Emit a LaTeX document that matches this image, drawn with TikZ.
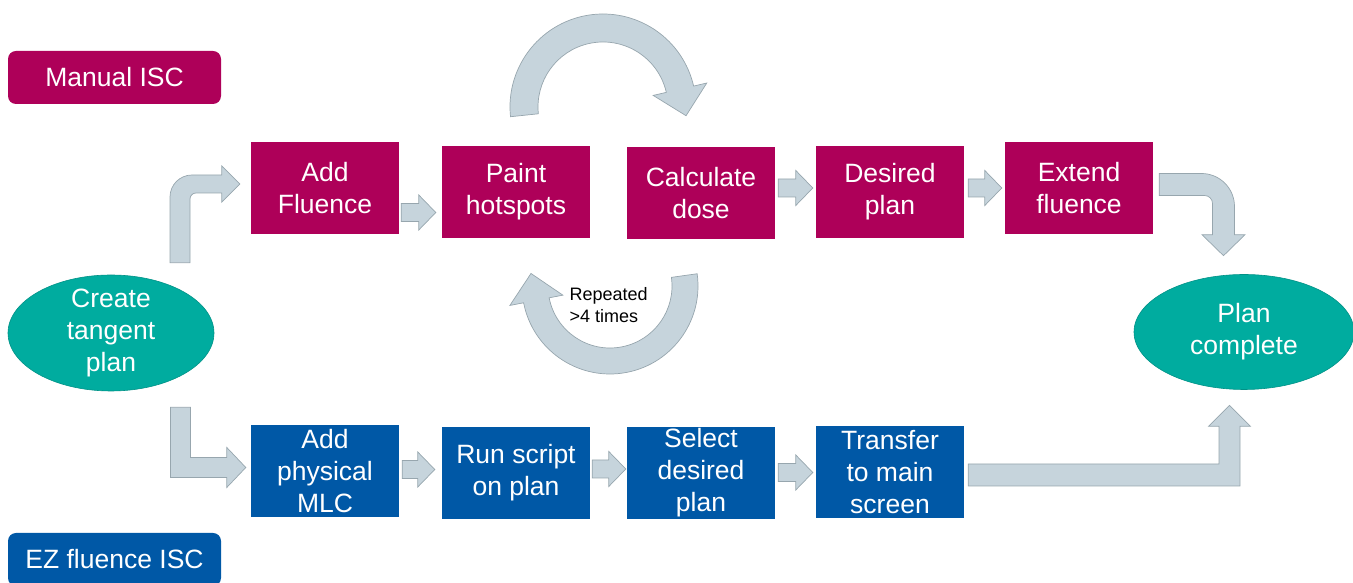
\documentclass[tikz,border=0pt]{standalone}
\usepackage{fontspec}
\setmainfont{Liberation Sans}
\usetikzlibrary{shapes.geometric,calc}

\definecolor{manual}{HTML}{AE0059}
\definecolor{ez}{HTML}{0058A6}
\definecolor{term}{HTML}{00AC9F}
\definecolor{arrowfill}{HTML}{C6D4DC}
\definecolor{arrowline}{HTML}{97A6AE}

\tikzset{
  boxtext/.style={text=white, align=center, font=\fontsize{26.5}{32}\selectfont},
  stepbox/.style={boxtext, rectangle, minimum width=148pt, minimum height=92pt, inner sep=0pt},
  manualbox/.style={stepbox, fill=manual},
  ezbox/.style={stepbox, fill=ez},
  tagbox/.style={boxtext, rectangle, rounded corners=8pt, minimum width=213pt, minimum height=53pt, inner sep=0pt},
  termnode/.style={boxtext, ellipse, fill=term, draw=term!85!black, line width=0.6pt, inner sep=-6pt},
  blockarrow/.style={fill=arrowfill, draw=arrowline, line width=0.7pt, line join=miter},
  % straight block arrow, kept at the height of the start point
  fat/.style={blockarrow, to path={let \p1=(\tikztostart), \p2=(\tikztotarget) in
      (\x1,\y1+9pt) -- (\x2-17pt,\y1+9pt) -- (\x2-17pt,\y1+17.5pt) -- (\x2,\y1)
      -- (\x2-17pt,\y1-17.5pt) -- (\x2-17pt,\y1-9pt) -- (\x1,\y1-9pt) -- cycle}},
  % up, round corner, then right
  elbowup/.style={blockarrow, to path={let \p1=(\tikztostart), \p2=(\tikztotarget) in
      (\x1-10pt,\y1) -- (\x1-10pt,\y2-13pt) arc[start angle=180, end angle=90, radius=22pt]
      -- (\x2-18pt,\y2+9pt) -- (\x2-18pt,\y2+18pt) -- (\x2,\y2) -- (\x2-18pt,\y2-18pt)
      -- (\x2-18pt,\y2-9pt) -- (\x1+16pt,\y2-9pt) arc[start angle=90, end angle=180, radius=6pt]
      -- (\x1+10pt,\y1) -- cycle}},
  % down, sharp corner, then right
  elbowdown/.style={blockarrow, to path={let \p1=(\tikztostart), \p2=(\tikztotarget) in
      (\x1-10pt,\y1) -- (\x1-10pt,\y2-10pt) -- (\x2-19pt,\y2-10pt) -- (\x2-19pt,\y2-20pt)
      -- (\x2,\y2) -- (\x2-19pt,\y2+20pt) -- (\x2-19pt,\y2+10pt) -- (\x1+10pt,\y2+10pt)
      -- (\x1+10pt,\y1) -- cycle}},
  % right, round corner, then down
  elbowturn/.style={blockarrow, to path={let \p1=(\tikztostart), \p2=(\tikztotarget) in
      (\x1,\y1+11pt) -- (\x2-22pt,\y1+11pt) arc[start angle=90, end angle=0, radius=33pt]
      -- (\x2+11pt,\y2+21pt) -- (\x2+21.5pt,\y2+21pt) -- (\x2,\y2) -- (\x2-21.5pt,\y2+21pt)
      -- (\x2-11pt,\y2+21pt) -- (\x2-11pt,\y1-19pt) arc[start angle=0, end angle=90, radius=8pt]
      -- (\x1,\y1-11pt) -- cycle}},
  % right, sharp corner, then up
  elbowsharp/.style={blockarrow, to path={let \p1=(\tikztostart), \p2=(\tikztotarget) in
      (\x1,\y1-11pt) -- (\x2+10.5pt,\y1-11pt) -- (\x2+10.5pt,\y2-21pt) -- (\x2+21pt,\y2-21pt)
      -- (\x2,\y2) -- (\x2-21pt,\y2-21pt) -- (\x2-10.5pt,\y2-21pt) -- (\x2-10.5pt,\y1+11pt)
      -- (\x1,\y1+11pt) -- cycle}},
}

\begin{document}
\begin{tikzpicture}[x=1pt, y=1pt]
    \useasboundingbox (0,0) rectangle (1353,583);

    \node[tagbox, fill=manual] (manualtag) at (114.5,505.5) {Manual ISC};
    \node[tagbox, fill=ez] (eztag) at (114.5,23.5) {EZ fluence ISC};

    \node[termnode, minimum width=206pt, minimum height=116pt] (create) at (111,250) {Create\\tangent\\plan};
    \node[termnode, minimum width=220pt, minimum height=115pt] (done) at (1244,251) {Plan\\complete};

    % manual steps
    \node[manualbox] (addfl) at (325,395) {Add\\Fluence};
    \node[manualbox] (paint) at (516,391) {Paint\\hotspots};
    \node[manualbox] (calc) at (701,389.5) {Calculate\\dose};
    \node[manualbox] (desired) at (890,391) {Desired\\plan};
    \node[manualbox] (extend) at (1079,395) {Extend\\fluence};

    % EZ fluence steps
    \node[ezbox] (addmlc) at (325,112) {Add\\physical\\MLC};
    \node[ezbox] (runscr) at (516,110) {Run script\\on plan};
    \node[ezbox] (select) at (701,110) {Select\\desired\\plan};
    \node[ezbox] (transfer) at (890,110.5) {Transfer\\to main\\screen};

    \draw[fat] ($(addfl.east)+(2,-24.5)$) to ($(paint.west)+(-6,0)$);
    \draw[fat] ($(calc.east)+(3,5.5)$) to ($(desired.west)+(-3,0)$);
    \draw[fat] ($(desired.east)+(4,4)$) to ($(extend.west)+(-3,0)$);
    \draw[fat] ($(addmlc.east)+(3,1.5)$) to ($(runscr.west)+(-7,0)$);
    \draw[fat] ($(runscr.east)+(2,4)$) to ($(select.west)+(-1,0)$);
    \draw[fat] ($(select.east)+(3,0.5)$) to ($(transfer.west)+(-3,0)$);

    \draw[elbowup] ($(create.north)+(69,12)$) to ($(addfl.west)+(-11,4)$);
    \draw[elbowdown] ($(create.south)+(69.5,-16)$) to ($(addmlc.west)+(-5,3.5)$);
    \draw[elbowturn] ($(extend.east)+(6,3.5)$) to ($(done.north)+(-20.5,18.5)$);
    \draw[elbowsharp] ($(transfer.east)+(4,-2.5)$) to ($(done.south)+(-14.5,-15.5)$);

    % loop between painting and dose calculation
    \coordinate (loopA) at (603,476);
    \coordinate (loopB) at (610,297);
    \draw[blockarrow] ($(loopA)+(186:93)$) arc[start angle=186, end angle=13, radius=93]
        -- ($(loopA)+(13:106.5)$) -- ($(loopA)+(-6:83.5)$) -- ($(loopA)+(13:51.5)$)
        -- ($(loopA)+(13:65)$) arc[start angle=13, end angle=186, radius=65] -- cycle;
    \draw[blockarrow] ($(loopB)+(8:88)$) arc[start angle=8, end angle=-169, radius=88]
        -- ($(loopB)+(-169:102)$) -- ($(loopB)+(171:80)$) -- ($(loopB)+(-169:48)$)
        -- ($(loopB)+(-169:62)$) arc[start angle=-169, end angle=8, radius=62] -- cycle;
    \node[anchor=west, align=left, font=\fontsize{18}{22}\selectfont] (repeat) at (566,278) {Repeated\\>4 times};
\end{tikzpicture}
\end{document}
